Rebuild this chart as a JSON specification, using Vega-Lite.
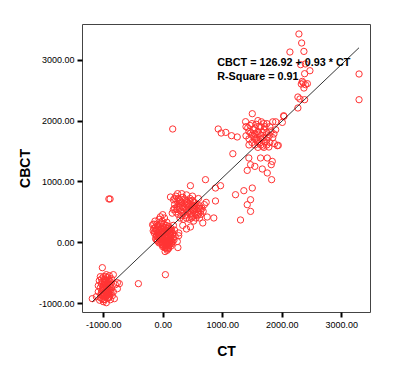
{
  "$schema": "https://vega.github.io/schema/vega-lite/v6.json",
  "autosize": {"type": "none"},
  "padding": {"left": 82, "top": 24, "right": 27, "bottom": 62},
  "width": 288,
  "height": 288,
  "background": "white",
  "config": {
    "view": {"stroke": "#444444", "strokeWidth": 1},
    "font": "Liberation Sans"
  },
  "datasets": {
    "points": [
      {"CT": -1015, "CBCT": -415}, {"CT": -1184, "CBCT": -924}, {"CT": -830, "CBCT": -530}, {"CT": -1083, "CBCT": -810},
      {"CT": -762, "CBCT": -760}, {"CT": -948, "CBCT": -990}, {"CT": -880, "CBCT": -941}, {"CT": -982, "CBCT": -875},
      {"CT": -1049, "CBCT": -744}, {"CT": -914, "CBCT": -695}, {"CT": -965, "CBCT": -612}, {"CT": -998, "CBCT": -563},
      {"CT": -931, "CBCT": -580}, {"CT": -880, "CBCT": -645}, {"CT": -1032, "CBCT": -678}, {"CT": -982, "CBCT": -777},
      {"CT": -948, "CBCT": -810}, {"CT": -897, "CBCT": -842}, {"CT": -847, "CBCT": -875}, {"CT": -1049, "CBCT": -908},
      {"CT": -998, "CBCT": -941}, {"CT": -914, "CBCT": -908}, {"CT": -863, "CBCT": -744}, {"CT": -1066, "CBCT": -629},
      {"CT": -965, "CBCT": -711}, {"CT": -931, "CBCT": -744}, {"CT": -1015, "CBCT": -842}, {"CT": -830, "CBCT": -810},
      {"CT": -796, "CBCT": -695}, {"CT": -1116, "CBCT": -892}, {"CT": -982, "CBCT": -662}, {"CT": -948, "CBCT": -530},
      {"CT": -897, "CBCT": -547}, {"CT": -863, "CBCT": -596}, {"CT": -998, "CBCT": -974}, {"CT": -813, "CBCT": -924},
      {"CT": -1083, "CBCT": -711}, {"CT": -1049, "CBCT": -563}, {"CT": -897, "CBCT": -777}, {"CT": -729, "CBCT": -678},
      {"CT": -762, "CBCT": -662}, {"CT": -409, "CBCT": -678}, {"CT": -965, "CBCT": -760}, {"CT": -931, "CBCT": -826},
      {"CT": -914, "CBCT": -620}, {"CT": -948, "CBCT": -680}, {"CT": -1000, "CBCT": -720}, {"CT": -980, "CBCT": -600},
      {"CT": -960, "CBCT": -900}, {"CT": -900, "CBCT": -900}, {"CT": -870, "CBCT": -820}, {"CT": -1020, "CBCT": -790},
      {"CT": -940, "CBCT": -860}, {"CT": -910, "CBCT": -760}, {"CT": -880, "CBCT": -700}, {"CT": -1060, "CBCT": -950},
      {"CT": -990, "CBCT": -830},
      {"CT": -1030, "CBCT": -600}, {"CT": -1010, "CBCT": -650}, {"CT": -990, "CBCT": -700}, {"CT": -970, "CBCT": -650},
      {"CT": -950, "CBCT": -740}, {"CT": -930, "CBCT": -700}, {"CT": -1000, "CBCT": -780}, {"CT": -970, "CBCT": -820},
      {"CT": -950, "CBCT": -880}, {"CT": -930, "CBCT": -920}, {"CT": -910, "CBCT": -850}, {"CT": -890, "CBCT": -880},
      {"CT": -1040, "CBCT": -860}, {"CT": -1020, "CBCT": -920}, {"CT": -980, "CBCT": -940}, {"CT": -960, "CBCT": -560},
      {"CT": -940, "CBCT": -620}, {"CT": -920, "CBCT": -660}, {"CT": -900, "CBCT": -620}, {"CT": -1000, "CBCT": -880},
      {"CT": -960, "CBCT": -800}, {"CT": -1030, "CBCT": -820}, {"CT": -1010, "CBCT": -740}, {"CT": -920, "CBCT": -800},
      {"CT": -880, "CBCT": -780},
      {"CT": -905, "CBCT": 713}, {"CT": -885, "CBCT": 713},
      {"CT": 45, "CBCT": -530},
      {"CT": 0, "CBCT": 455}, {"CT": -170, "CBCT": 290}, {"CT": 270, "CBCT": 155}, {"CT": 245, "CBCT": 15},
      {"CT": 255, "CBCT": -85}, {"CT": 75, "CBCT": -130}, {"CT": 40, "CBCT": -150}, {"CT": 100, "CBCT": -100},
      {"CT": -130, "CBCT": 350}, {"CT": -100, "CBCT": 300}, {"CT": -60, "CBCT": 380}, {"CT": -20, "CBCT": 320},
      {"CT": 20, "CBCT": 300}, {"CT": 60, "CBCT": 280}, {"CT": 100, "CBCT": 260}, {"CT": 140, "CBCT": 230},
      {"CT": -150, "CBCT": 230}, {"CT": -110, "CBCT": 200}, {"CT": -70, "CBCT": 250}, {"CT": -30, "CBCT": 220},
      {"CT": 10, "CBCT": 240}, {"CT": 50, "CBCT": 200}, {"CT": 90, "CBCT": 190}, {"CT": 130, "CBCT": 170},
      {"CT": 170, "CBCT": 150}, {"CT": -140, "CBCT": 150}, {"CT": -100, "CBCT": 120}, {"CT": -60, "CBCT": 160},
      {"CT": -20, "CBCT": 140}, {"CT": 20, "CBCT": 170}, {"CT": 60, "CBCT": 130}, {"CT": 100, "CBCT": 110},
      {"CT": 140, "CBCT": 90}, {"CT": 180, "CBCT": 70}, {"CT": -120, "CBCT": 60}, {"CT": -80, "CBCT": 80},
      {"CT": -40, "CBCT": 50}, {"CT": 0, "CBCT": 90}, {"CT": 40, "CBCT": 60}, {"CT": 80, "CBCT": 30},
      {"CT": 120, "CBCT": 20}, {"CT": 160, "CBCT": 10}, {"CT": -60, "CBCT": -10}, {"CT": -20, "CBCT": 10},
      {"CT": 20, "CBCT": -20}, {"CT": 60, "CBCT": -40}, {"CT": 100, "CBCT": -50}, {"CT": 140, "CBCT": -60},
      {"CT": 0, "CBCT": -70}, {"CT": 40, "CBCT": -90}, {"CT": 80, "CBCT": -110}, {"CT": 120, "CBCT": 0},
      {"CT": -90, "CBCT": 20}, {"CT": 200, "CBCT": 200}, {"CT": 210, "CBCT": 100}, {"CT": 180, "CBCT": 280},
      {"CT": -40, "CBCT": 420}, {"CT": 30, "CBCT": 400}, {"CT": 150, "CBCT": -20}, {"CT": 60, "CBCT": 200},
      {"CT": -10, "CBCT": 180}, {"CT": 20, "CBCT": 100}, {"CT": 110, "CBCT": 150}, {"CT": -50, "CBCT": 110},
      {"CT": 70, "CBCT": 70}, {"CT": 30, "CBCT": 30}, {"CT": 90, "CBCT": -10}, {"CT": 130, "CBCT": 50},
      {"CT": 0, "CBCT": -30}, {"CT": 50, "CBCT": -60},
      {"CT": -120, "CBCT": 250}, {"CT": -80, "CBCT": 280}, {"CT": -40, "CBCT": 300}, {"CT": 0, "CBCT": 260},
      {"CT": 40, "CBCT": 250}, {"CT": 80, "CBCT": 230}, {"CT": 120, "CBCT": 210}, {"CT": -130, "CBCT": 180},
      {"CT": -90, "CBCT": 160}, {"CT": -50, "CBCT": 200}, {"CT": -10, "CBCT": 220}, {"CT": 30, "CBCT": 220},
      {"CT": 70, "CBCT": 170}, {"CT": 110, "CBCT": 200}, {"CT": 150, "CBCT": 190}, {"CT": -110, "CBCT": 100},
      {"CT": -70, "CBCT": 130}, {"CT": -30, "CBCT": 90}, {"CT": 10, "CBCT": 130}, {"CT": 50, "CBCT": 110},
      {"CT": 90, "CBCT": 90}, {"CT": 130, "CBCT": 120}, {"CT": -100, "CBCT": 40}, {"CT": -60, "CBCT": 60},
      {"CT": -20, "CBCT": 60}, {"CT": 20, "CBCT": 50}, {"CT": 60, "CBCT": 10}, {"CT": 100, "CBCT": 40},
      {"CT": 140, "CBCT": 30}, {"CT": -40, "CBCT": 0}, {"CT": 0, "CBCT": 20}, {"CT": 40, "CBCT": 0},
      {"CT": 80, "CBCT": -20}, {"CT": 120, "CBCT": -30}, {"CT": 20, "CBCT": -60}, {"CT": 60, "CBCT": -90},
      {"CT": 100, "CBCT": -80}, {"CT": -10, "CBCT": -40}, {"CT": -80, "CBCT": 210}, {"CT": 160, "CBCT": 120},
      {"CT": 190, "CBCT": 40}, {"CT": -150, "CBCT": 300}, {"CT": -10, "CBCT": 350}, {"CT": 70, "CBCT": 330},
      {"CT": -160, "CBCT": 190},
      {"CT": 130, "CBCT": 745}, {"CT": 180, "CBCT": 700}, {"CT": 220, "CBCT": 760}, {"CT": 260, "CBCT": 720},
      {"CT": 300, "CBCT": 680}, {"CT": 340, "CBCT": 740}, {"CT": 380, "CBCT": 700}, {"CT": 420, "CBCT": 660},
      {"CT": 460, "CBCT": 720}, {"CT": 500, "CBCT": 690}, {"CT": 540, "CBCT": 650}, {"CT": 580, "CBCT": 620},
      {"CT": 620, "CBCT": 600}, {"CT": 660, "CBCT": 560}, {"CT": 200, "CBCT": 620}, {"CT": 240, "CBCT": 580},
      {"CT": 280, "CBCT": 640}, {"CT": 320, "CBCT": 600}, {"CT": 360, "CBCT": 560}, {"CT": 400, "CBCT": 620},
      {"CT": 440, "CBCT": 580}, {"CT": 480, "CBCT": 540}, {"CT": 520, "CBCT": 600}, {"CT": 560, "CBCT": 540},
      {"CT": 600, "CBCT": 500}, {"CT": 640, "CBCT": 460}, {"CT": 180, "CBCT": 540}, {"CT": 220, "CBCT": 500},
      {"CT": 260, "CBCT": 460}, {"CT": 300, "CBCT": 520}, {"CT": 340, "CBCT": 480}, {"CT": 380, "CBCT": 440},
      {"CT": 420, "CBCT": 500}, {"CT": 460, "CBCT": 460}, {"CT": 500, "CBCT": 420}, {"CT": 540, "CBCT": 480},
      {"CT": 580, "CBCT": 440}, {"CT": 620, "CBCT": 400}, {"CT": 290, "CBCT": 400}, {"CT": 350, "CBCT": 380},
      {"CT": 450, "CBCT": 380}, {"CT": 520, "CBCT": 350}, {"CT": 560, "CBCT": 400}, {"CT": 680, "CBCT": 510},
      {"CT": 700, "CBCT": 620}, {"CT": 160, "CBCT": 480}, {"CT": 250, "CBCT": 800}, {"CT": 320, "CBCT": 800},
      {"CT": 400, "CBCT": 780}, {"CT": 500, "CBCT": 760}, {"CT": 600, "CBCT": 720},
      {"CT": 200, "CBCT": 720}, {"CT": 240, "CBCT": 680}, {"CT": 280, "CBCT": 700}, {"CT": 320, "CBCT": 660},
      {"CT": 360, "CBCT": 640}, {"CT": 400, "CBCT": 680}, {"CT": 440, "CBCT": 640}, {"CT": 480, "CBCT": 620},
      {"CT": 520, "CBCT": 660}, {"CT": 560, "CBCT": 600}, {"CT": 600, "CBCT": 560}, {"CT": 640, "CBCT": 520},
      {"CT": 440, "CBCT": 520}, {"CT": 480, "CBCT": 480}, {"CT": 520, "CBCT": 520}, {"CT": 560, "CBCT": 460},
      {"CT": 600, "CBCT": 460}, {"CT": 400, "CBCT": 540}, {"CT": 360, "CBCT": 500}, {"CT": 320, "CBCT": 440},
      {"CT": 400, "CBCT": 400}, {"CT": 480, "CBCT": 400}, {"CT": 240, "CBCT": 540}, {"CT": 280, "CBCT": 580},
      {"CT": 200, "CBCT": 560}, {"CT": 340, "CBCT": 580}, {"CT": 460, "CBCT": 680}, {"CT": 500, "CBCT": 580},
      {"CT": 540, "CBCT": 560}, {"CT": 620, "CBCT": 560},
      {"CT": 466, "CBCT": 931}, {"CT": 719, "CBCT": 1030}, {"CT": 972, "CBCT": 931}, {"CT": 887, "CBCT": 893},
      {"CT": 887, "CBCT": 680}, {"CT": 859, "CBCT": 401}, {"CT": 674, "CBCT": 319}, {"CT": 748, "CBCT": 417},
      {"CT": 466, "CBCT": 253}, {"CT": 399, "CBCT": 220}, {"CT": 337, "CBCT": 279}, {"CT": 269, "CBCT": 110},
      {"CT": 731, "CBCT": 657},
      {"CT": 168, "CBCT": 1862}, {"CT": 933, "CBCT": 1862}, {"CT": 983, "CBCT": 1796}, {"CT": 1061, "CBCT": 1806},
      {"CT": 1157, "CBCT": 1752}, {"CT": 1253, "CBCT": 1731}, {"CT": 1179, "CBCT": 1456}, {"CT": 1393, "CBCT": 1982},
      {"CT": 1506, "CBCT": 2113}, {"CT": 2033, "CBCT": 2080}, {"CT": 1927, "CBCT": 1588}, {"CT": 1785, "CBCT": 1566},
      {"CT": 1448, "CBCT": 1386}, {"CT": 1645, "CBCT": 1386}, {"CT": 1758, "CBCT": 1386}, {"CT": 1842, "CBCT": 1330},
      {"CT": 1477, "CBCT": 1276}, {"CT": 1549, "CBCT": 1248}, {"CT": 1674, "CBCT": 1205}, {"CT": 1421, "CBCT": 1182},
      {"CT": 1758, "CBCT": 1140}, {"CT": 1831, "CBCT": 1030}, {"CT": 1224, "CBCT": 783}, {"CT": 1364, "CBCT": 849},
      {"CT": 1506, "CBCT": 893}, {"CT": 1477, "CBCT": 701}, {"CT": 1421, "CBCT": 619}, {"CT": 1477, "CBCT": 509},
      {"CT": 1308, "CBCT": 368}, {"CT": 1825, "CBCT": 1276}, {"CT": 1943, "CBCT": 1593},
      {"CT": 1400, "CBCT": 1900}, {"CT": 1450, "CBCT": 1820}, {"CT": 1500, "CBCT": 1760}, {"CT": 1550, "CBCT": 1700},
      {"CT": 1600, "CBCT": 1650}, {"CT": 1650, "CBCT": 1600}, {"CT": 1700, "CBCT": 1560}, {"CT": 1500, "CBCT": 1950},
      {"CT": 1550, "CBCT": 1880}, {"CT": 1600, "CBCT": 1820}, {"CT": 1650, "CBCT": 1760}, {"CT": 1700, "CBCT": 1720},
      {"CT": 1750, "CBCT": 1680}, {"CT": 1800, "CBCT": 1640}, {"CT": 1450, "CBCT": 1700}, {"CT": 1500, "CBCT": 1640},
      {"CT": 1550, "CBCT": 1600}, {"CT": 1600, "CBCT": 1560}, {"CT": 1650, "CBCT": 1900}, {"CT": 1700, "CBCT": 1850},
      {"CT": 1750, "CBCT": 1800}, {"CT": 1800, "CBCT": 1760}, {"CT": 1850, "CBCT": 1720}, {"CT": 1750, "CBCT": 1950},
      {"CT": 1800, "CBCT": 1900}, {"CT": 1850, "CBCT": 1980}, {"CT": 1900, "CBCT": 1850}, {"CT": 1600, "CBCT": 2000},
      {"CT": 1450, "CBCT": 1600}, {"CT": 1400, "CBCT": 1750}, {"CT": 1550, "CBCT": 1780}, {"CT": 1650, "CBCT": 1700},
      {"CT": 1700, "CBCT": 1950}, {"CT": 1880, "CBCT": 1620}, {"CT": 1520, "CBCT": 1850}, {"CT": 1620, "CBCT": 1900},
      {"CT": 1750, "CBCT": 1600}, {"CT": 1580, "CBCT": 1720}, {"CT": 1680, "CBCT": 1800}, {"CT": 1430, "CBCT": 1880},
      {"CT": 1900, "CBCT": 1980},
      {"CT": 1480, "CBCT": 1800}, {"CT": 1530, "CBCT": 1740}, {"CT": 1580, "CBCT": 1680}, {"CT": 1630, "CBCT": 1630},
      {"CT": 1680, "CBCT": 1580}, {"CT": 1720, "CBCT": 1650}, {"CT": 1770, "CBCT": 1720}, {"CT": 1820, "CBCT": 1830},
      {"CT": 1870, "CBCT": 1780}, {"CT": 1620, "CBCT": 1780}, {"CT": 1570, "CBCT": 1940}, {"CT": 1720, "CBCT": 1900},
      {"CT": 1470, "CBCT": 1920}, {"CT": 1660, "CBCT": 1980},
      {"CT": 2290, "CBCT": 3422}, {"CT": 2336, "CBCT": 3274}, {"CT": 2374, "CBCT": 3136}, {"CT": 2139, "CBCT": 3126},
      {"CT": 2319, "CBCT": 2918}, {"CT": 2475, "CBCT": 2819}, {"CT": 2386, "CBCT": 2770}, {"CT": 2347, "CBCT": 2644},
      {"CT": 2432, "CBCT": 2606}, {"CT": 2374, "CBCT": 2535}, {"CT": 2273, "CBCT": 2387}, {"CT": 2307, "CBCT": 2355},
      {"CT": 2386, "CBCT": 2343}, {"CT": 2273, "CBCT": 2207}, {"CT": 2038, "CBCT": 2069}, {"CT": 2011, "CBCT": 1970},
      {"CT": 3301, "CBCT": 2765}, {"CT": 3301, "CBCT": 2343}, {"CT": 2360, "CBCT": 2620}, {"CT": 2400, "CBCT": 2590},
      {"CT": 2330, "CBCT": 2600}, {"CT": 2398, "CBCT": 2930}
    ],
    "fit": [
      {"CT": -1185, "CBCT": -975},
      {"CT": 3300, "CBCT": 3196}
    ],
    "notes": [
      {"CT": 916, "CBCT": 2951, "label": "CBCT = 126.92 + 0.93 * CT"},
      {"CT": 916, "CBCT": 2713, "label": "R-Square = 0.91"}
    ]
  },
  "encoding": {
    "x": {
      "field": "CT", "type": "quantitative",
      "scale": {"domain": [-1357, 3485], "nice": false, "zero": false},
      "axis": {
        "title": "CT", "values": [-1000, 0, 1000, 2000, 3000],
        "labelExpr": "(datum.value < 0 ? '-' : '') + format(abs(datum.value), '.2f')",
        "grid": false, "domain": false,
        "tickColor": "black", "tickWidth": 2, "tickSize": 5,
        "labelFont": "Liberation Sans", "labelFontSize": 9, "labelColor": "black", "labelPadding": 3,
        "titleFont": "Liberation Sans", "titleFontSize": 14, "titleFontWeight": "bold", "titleColor": "black", "titlePadding": 15
      }
    },
    "y": {
      "field": "CBCT", "type": "quantitative",
      "scale": {"domain": [-1143, 3586], "nice": false, "zero": false},
      "axis": {
        "title": "CBCT", "values": [-1000, 0, 1000, 2000, 3000],
        "labelExpr": "(datum.value < 0 ? '-' : '') + format(abs(datum.value), '.2f')",
        "grid": false, "domain": false,
        "tickColor": "black", "tickWidth": 2, "tickSize": 5,
        "labelFont": "Liberation Sans", "labelFontSize": 9, "labelColor": "black", "labelPadding": 3,
        "titleFont": "Liberation Sans", "titleFontSize": 14, "titleFontWeight": "bold", "titleColor": "black", "titlePadding": 6
      }
    }
  },
  "layer": [
    {
      "data": {"name": "points"},
      "mark": {"type": "point", "shape": "circle", "filled": false, "stroke": "#ff3333", "strokeWidth": 1, "size": 40, "opacity": 1}
    },
    {
      "data": {"name": "fit"},
      "mark": {"type": "line", "color": "black", "strokeWidth": 0.8},
      "encoding": {}
    },
    {
      "data": {"name": "notes"},
      "mark": {"type": "text", "align": "left", "baseline": "middle", "font": "Liberation Sans", "fontSize": 10.8, "fontWeight": "bold", "color": "black"},
      "encoding": {"text": {"field": "label"}}
    }
  ]
}
